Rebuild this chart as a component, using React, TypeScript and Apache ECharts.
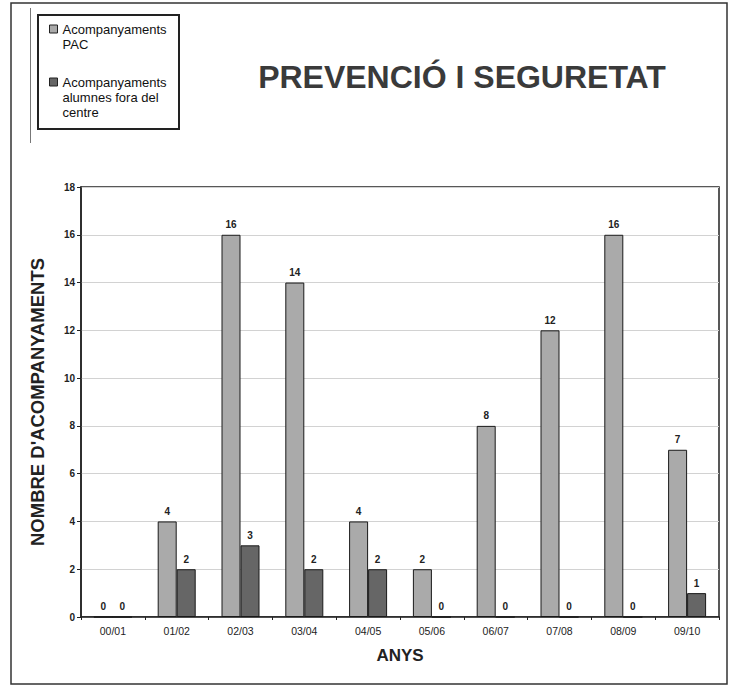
import React, { useEffect, useRef } from "react";
import * as echarts from "echarts";

const years = ["00/01", "01/02", "02/03", "03/04", "04/05", "05/06", "06/07", "07/08", "08/09", "09/10"];
const pacValues = [0, 4, 16, 14, 4, 2, 8, 12, 16, 7];
const foraValues = [0, 2, 3, 2, 2, 0, 0, 0, 0, 1];
const seriesNames = ["Acompanyaments PAC", "Acompanyaments alumnes fora del centre"];
const legendLines = [
  ["Acompanyaments", "PAC"],
  ["Acompanyaments", "alumnes fora del", "centre"],
];
const yTicks = { min: 0, max: 18, interval: 2 };

const FONT = "'Liberation Sans', Arial, Helvetica, sans-serif";

export default function App() {
  const ref = useRef<HTMLDivElement>(null);

  useEffect(() => {
    if (!ref.current) return;
    const chart = echarts.init(ref.current, undefined, { renderer: "svg" });
    const LH = 15;
    // Blank lines above keep the icon level with the first text line.
    const legendFor = (idx: number, iconCenterY: number) => {
      const n = legendLines[idx].length;
      const total = 2 * n - 1;
      return {
        show: true,
        orient: "vertical",
        left: 49,
        top: iconCenterY - (total * LH) / 2,
        padding: 0,
        itemWidth: 8,
        itemHeight: 8,
        icon: "rect",
        selectedMode: false,
        data: [seriesNames[idx]],
        formatter: () => "\n".repeat(n - 1) + legendLines[idx].join("\n"),
        itemStyle: { borderColor: "#222", borderWidth: 1 },
        textStyle: {
          fontFamily: FONT,
          fontSize: 13,
          color: "#111",
          lineHeight: LH,
        },
      };
    };
    chart.setOption({
      animation: false,
      backgroundColor: "#ffffff",
      title: {
        text: "PREVENCIÓ I SEGURETAT",
        left: 457,
        textAlign: "center",
        top: 56,
        textStyle: { fontFamily: FONT, fontSize: 32, fontWeight: "bold", color: "#3a3a3a" },
      },
      legend: [legendFor(0, 29), legendFor(1, 82)],
      grid: {
        left: 81,
        right: 11,
        top: 187,
        bottom: 70,
        show: true,
        borderColor: "#222",
        borderWidth: 1.5,
        containLabel: false,
      },
      xAxis: {
        type: "category",
        data: years,
        name: "ANYS",
        nameLocation: "middle",
        nameGap: 30,
        nameTextStyle: { fontFamily: FONT, fontSize: 17, fontWeight: "bold", color: "#222" },
        axisLine: { lineStyle: { color: "#222", width: 1.5 } },
        axisTick: { show: true, length: 3, lineStyle: { color: "#222" } },
        axisLabel: { fontFamily: FONT, fontSize: 10.5, color: "#222", margin: 8 },
        splitLine: { show: false },
      },
      yAxis: {
        type: "value",
        min: yTicks.min,
        max: yTicks.max,
        interval: yTicks.interval,
        name: "NOMBRE D'ACOMPANYAMENTS",
        nameLocation: "middle",
        nameGap: 34,
        nameTextStyle: { fontFamily: FONT, fontSize: 18.5, fontWeight: "bold", color: "#222" },
        axisLine: { show: true, lineStyle: { color: "#222", width: 1.5 } },
        axisTick: { show: true, length: 4, lineStyle: { color: "#222" } },
        axisLabel: { fontFamily: FONT, fontSize: 10, fontWeight: "bold", color: "#222", margin: 6 },
        splitLine: { show: true, lineStyle: { color: "#d2d2d2", width: 1 } },
      },
      series: [
        {
          name: seriesNames[0],
          type: "bar",
          data: pacValues,
          barWidth: 19,
          barGap: "0%",
          itemStyle: { color: "#aaaaaa", borderColor: "#1a1a1a", borderWidth: 1 },
          label: {
            show: true,
            position: "top",
            distance: 5,
            fontFamily: FONT,
            fontSize: 10,
            fontWeight: "bold",
            color: "#222",
          },
        },
        {
          name: seriesNames[1],
          type: "bar",
          data: foraValues,
          barWidth: 19,
          itemStyle: { color: "#666666", borderColor: "#1a1a1a", borderWidth: 1 },
          label: {
            show: true,
            position: "top",
            distance: 5,
            fontFamily: FONT,
            fontSize: 10,
            fontWeight: "bold",
            color: "#222",
          },
        },
      ],
      graphic: [
        {
          type: "rect",
          shape: { x: 11, y: 3, width: 716, height: 681 },
          style: { fill: "none", stroke: "#333", lineWidth: 1.5 },
          silent: true,
        },
        {
          type: "line",
          shape: { x1: 30.5, y1: 8, x2: 30.5, y2: 143 },
          style: { stroke: "#777", lineWidth: 1 },
          silent: true,
        },
        {
          type: "rect",
          shape: { x: 38, y: 15, width: 141, height: 114 },
          style: { fill: "none", stroke: "#222", lineWidth: 2 },
          silent: true,
        },
      ],
    });
    return () => chart.dispose();
  }, []);

  return (
    <div
      ref={ref}
      style={{ position: "fixed", left: 0, top: 0, width: 730, height: 687, background: "#fff" }}
    />
  );
}
